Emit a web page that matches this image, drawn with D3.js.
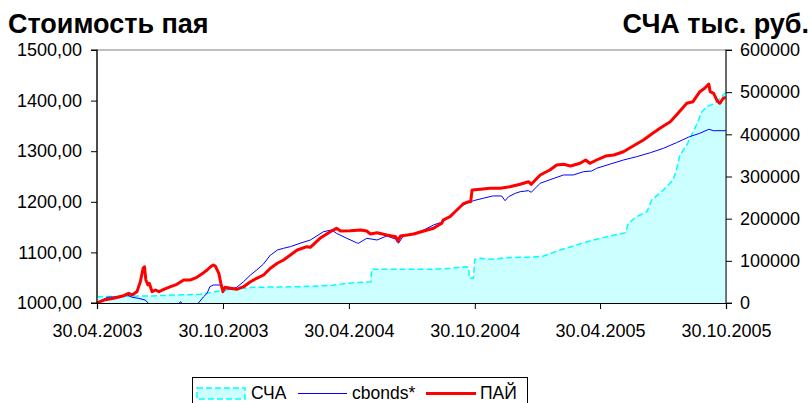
<!DOCTYPE html>
<html>
<head>
<meta charset="utf-8">
<script src="https://cdn.jsdelivr.net/npm/d3@7"></script>
<style>
  body { margin: 0; background: #fff; }
  text { font-family: "Liberation Sans", Arial, sans-serif; }
</style>
</head>
<body>
<div id="chart"></div>
<script>
// tick labels
const xTickLabels = ["30.04.2003", "30.10.2003", "30.04.2004", "30.10.2004", "30.04.2005", "30.10.2005"];
const leftTicks = [1000, 1100, 1200, 1300, 1400, 1500];
const rightTicks = [0, 100000, 200000, 300000, 400000, 500000, 600000];

// ПАЙ (unit value)
const paiDates = ["2003-04-30","2003-05-10","2003-05-24","2003-06-08","2003-06-15","2003-06-20","2003-06-27","2003-07-02","2003-07-06","2003-07-08",
  "2003-07-10","2003-07-13","2003-07-15","2003-07-19","2003-07-24","2003-07-29","2003-08-05","2003-08-15","2003-08-24","2003-09-03",
  "2003-09-13","2003-09-22","2003-10-02","2003-10-07","2003-10-12","2003-10-16","2003-10-19","2003-10-24","2003-10-27","2003-10-30",
  "2003-11-02","2003-11-10","2003-11-19","2003-11-29","2003-12-09","2003-12-18","2003-12-28","2004-01-07","2004-01-17","2004-01-26",
  "2004-02-05","2004-02-15","2004-02-29","2004-03-05","2004-03-19","2004-04-03","2004-04-12","2004-04-18","2004-05-02","2004-05-17",
  "2004-05-26","2004-05-31","2004-06-10","2004-06-24","2004-07-07","2004-07-10","2004-07-14","2004-07-24","2004-08-02","2004-08-17",
  "2004-08-31","2004-09-12","2004-09-14","2004-09-24","2004-10-04","2004-10-13","2004-10-21","2004-10-24","2004-10-26","2004-11-07",
  "2004-11-21","2004-12-06","2004-12-20","2005-01-04","2005-01-16","2005-01-20","2005-02-02","2005-02-16","2005-02-26","2005-03-08",
  "2005-03-18","2005-04-01","2005-04-09","2005-04-15","2005-04-25","2005-05-08","2005-05-20","2005-06-03","2005-06-17","2005-07-02",
  "2005-07-14","2005-07-26","2005-08-10","2005-08-19","2005-09-03","2005-09-12","2005-09-22","2005-09-29","2005-10-05","2005-10-07",
  "2005-10-12","2005-10-17","2005-10-21","2005-10-26","2005-10-30"];
const paiValues = [1000,1005.9,1009.3,1014.4,1019.2,1015.8,1022.3,1042.1,1068.6,1071.7,
  1045.5,1035.6,1038.9,1022.3,1025.7,1022.3,1027.1,1032.2,1037.0,1045.5,
  1045.5,1050.8,1059.9,1065.2,1071.7,1075.1,1073.0,1058.7,1038.9,1022.3,
  1031.0,1029.1,1027.1,1032.2,1042.1,1048.8,1055.3,1068.6,1078.5,1085.0,
  1094.9,1104.7,1111.3,1110.1,1127.9,1140.9,1147.6,1142.3,1142.9,1144.3,
  1142.3,1136.4,1138.9,1134.4,1131.0,1122.5,1132.4,1134.4,1136.4,1142.3,
  1147.6,1157.5,1164.0,1170.6,1183.8,1195.7,1200.2,1200.2,1223.3,1224.7,
  1226.7,1226.7,1229.8,1234.8,1239.7,1234.6,1253.0,1262.8,1272.7,1274.1,
  1270.7,1276.1,1282.6,1276.1,1282.6,1290.5,1292.5,1299.0,1310.3,1322.1,
  1334.0,1345.3,1358.3,1371.5,1394.7,1397.8,1417.6,1424.3,1432.8,1417.6,
  1414.4,1399.8,1394.7,1404.6,1406.5];

// cbonds* index
const cbondsDates = ["2003-04-30","2003-05-15","2003-05-29","2003-06-13","2003-06-20","2003-06-29","2003-07-09","2003-07-14","2003-07-24","2003-08-15",
  "2003-08-26","2003-08-29","2003-09-02","2003-09-13","2003-09-24","2003-10-02","2003-10-07","2003-10-09","2003-10-11","2003-10-16",
  "2003-10-26","2003-10-31","2003-11-10","2003-11-19","2003-11-29","2003-12-09","2003-12-18","2003-12-28","2004-01-07","2004-01-09",
  "2004-01-17","2004-01-26","2004-02-05","2004-02-19","2004-03-05","2004-03-24","2004-04-05","2004-04-12","2004-04-27","2004-05-11",
  "2004-05-14","2004-05-26","2004-06-10","2004-06-24","2004-07-08","2004-07-11","2004-07-18","2004-08-02","2004-08-17","2004-08-31",
  "2004-09-14","2004-09-29","2004-10-13","2004-10-28","2004-11-11","2004-11-25","2004-12-08","2004-12-13","2004-12-18","2004-12-28",
  "2005-01-04","2005-01-16","2005-01-20","2005-02-02","2005-02-22","2005-03-08","2005-03-22","2005-04-06","2005-04-18","2005-04-25",
  "2005-05-15","2005-06-03","2005-06-22","2005-07-12","2005-07-31","2005-08-19","2005-09-07","2005-09-22","2005-10-05","2005-10-12",
  "2005-10-30"];
const cbondsValues = [1000,1011.3,1012.5,1015.8,1011.3,1009.3,1005.9,999.4,985,980,
  996,1002.6,998,985,999.4,1012.5,1019.2,1025.7,1032.2,1035.6,
  1035.6,1029.1,1027.1,1031.0,1042.1,1055.3,1065.2,1077.1,1094.9,1096.2,
  1104.7,1108.1,1111.3,1118.0,1124.5,1140.9,1144.3,1137.7,1127.9,1119.2,
  1118.0,1127.9,1124.5,1132.4,1125.9,1118.0,1132.4,1136.4,1144.3,1154.2,
  1160.7,1177.3,1193.7,1202.2,1206.9,1211.5,1211.5,1202.2,1210.1,1216.8,
  1220.0,1222.0,1218.8,1236.6,1246.4,1253.0,1253.0,1259.5,1260.9,1266.2,
  1274.7,1282.6,1289.1,1297.0,1305.7,1316.8,1328.7,1335.4,1343.3,1340.5,
  1340.5];

// СЧА, тыс. руб.
const schaDates = ["2003-04-30","2003-07-12","2003-09-27","2003-11-04","2003-12-13","2004-02-19","2004-04-07","2004-04-27","2004-06-01","2004-06-02",
  "2004-07-14","2004-08-31","2004-09-24","2004-10-16","2004-10-21","2004-10-22","2004-10-28","2004-10-30","2004-11-08","2004-11-25",
  "2004-12-15","2005-01-04","2005-01-18","2005-02-07","2005-03-03","2005-03-27","2005-04-20","2005-05-15","2005-06-06","2005-06-10",
  "2005-06-22","2005-07-07","2005-07-14","2005-07-31","2005-08-14","2005-08-19","2005-08-24","2005-09-03","2005-09-10","2005-09-17",
  "2005-09-25","2005-10-02","2005-10-14","2005-10-21","2005-10-30"];
const schaValues = [15000,16600,20600,30800,37200,38700,42000,46700,50500,79900,
  79900,79900,82300,86100,84700,58600,58600,103600,106000,103600,
  107400,108400,108400,111500,125700,137500,149400,158900,166700,189000,
  204700,216500,244300,268000,291700,315400,351000,374700,398400,422100,
  453700,465500,473600,485400,499700];

const W = 811, H = 403;
const plot = { left: 97, right: 726, top: 50, bottom: 303 };

const parseIso = d3.timeParse("%Y-%m-%d");
const parseRu = d3.timeParse("%d.%m.%Y");
const ruFormat = d3.formatLocale({ decimal: ",", thousands: "", grouping: [3], currency: ["", ""] });

const pai = paiDates.map((d, i) => ({ date: parseIso(d), value: paiValues[i] }));
const cbonds = cbondsDates.map((d, i) => ({ date: parseIso(d), value: cbondsValues[i] }));
const scha = schaDates.map((d, i) => ({ date: parseIso(d), value: schaValues[i] }));
const xTickDates = xTickLabels.map(parseRu);

const x = d3.scaleTime()
  .domain([xTickDates[0], xTickDates[xTickDates.length - 1]])
  .range([plot.left, plot.right]);
const yLeft = d3.scaleLinear().domain([1000, 1500]).range([plot.bottom, plot.top]);
const yRight = d3.scaleLinear().domain([0, 600000]).range([plot.bottom, plot.top]);

const svg = d3.select("#chart").append("svg")
  .attr("width", W).attr("height", H);

svg.append("defs").append("clipPath").attr("id", "plotClip")
  .append("rect")
  .attr("x", plot.left).attr("y", plot.top)
  .attr("width", plot.right - plot.left).attr("height", plot.bottom - plot.top);

// plot area border (only the top part stays visible)
svg.append("rect")
  .attr("x", plot.left).attr("y", plot.top)
  .attr("width", plot.right - plot.left).attr("height", plot.bottom - plot.top)
  .attr("fill", "none").attr("stroke", "#808080").attr("stroke-width", 1);

const g = svg.append("g").attr("clip-path", "url(#plotClip)");

// СЧА area
g.append("path")
  .datum(scha)
  .attr("fill", "#CCFFFF")
  .attr("d", d3.area().x(d => x(d.date)).y0(yRight(0)).y1(d => yRight(d.value)));
g.append("path")
  .datum(scha)
  .attr("fill", "none")
  .attr("stroke", "#00FFFF")
  .attr("stroke-width", 1.5)
  .attr("stroke-dasharray", "6,3")
  .attr("d", d3.line().x(d => x(d.date)).y(d => yRight(d.value)));

// cbonds line
g.append("path")
  .datum(cbonds)
  .attr("fill", "none")
  .attr("stroke", "#0000FF")
  .attr("stroke-width", 1)
  .attr("d", d3.line().x(d => x(d.date)).y(d => yLeft(d.value)));

// ПАЙ line
g.append("path")
  .datum(pai)
  .attr("fill", "none")
  .attr("stroke", "#FF0000")
  .attr("stroke-width", 3)
  .attr("stroke-linejoin", "round")
  .attr("d", d3.line().x(d => x(d.date)).y(d => yLeft(d.value)));

// axes
const leftAxis = svg.append("g")
  .attr("transform", `translate(${plot.left},0)`)
  .call(d3.axisLeft(yLeft).tickValues(leftTicks).tickFormat(ruFormat.format(".2f")).tickSize(6).tickPadding(9));
const rightAxis = svg.append("g")
  .attr("transform", `translate(${plot.right},0)`)
  .call(d3.axisRight(yRight).tickValues(rightTicks).tickFormat(d3.format("d")).tickSize(6).tickPadding(8));
const bottomAxis = svg.append("g")
  .attr("transform", `translate(0,${plot.bottom})`)
  .call(d3.axisBottom(x).tickValues(xTickDates).tickFormat((d, i) => xTickLabels[i]).tickSize(6).tickPadding(15));

[leftAxis, rightAxis, bottomAxis].forEach(a => {
  a.select(".domain").attr("stroke", "#000").attr("stroke-width", 1.2);
  a.selectAll(".tick line").attr("stroke", "#000");
  a.selectAll("text")
    .attr("font-family", "'Liberation Sans', Arial, sans-serif")
    .attr("font-size", 18)
    .attr("fill", "#000");
});
leftAxis.select(".domain").attr("d", `M-6,${plot.top}H0V${plot.bottom}H-6`);
rightAxis.select(".domain").attr("d", `M6,${plot.top}H0V${plot.bottom}H6`).attr("stroke", "#333");

// titles
svg.append("text")
  .attr("x", 8).attr("y", 33)
  .attr("font-size", 27).attr("font-weight", "bold")
  .text("Стоимость пая");
svg.append("text")
  .attr("x", 809).attr("y", 33)
  .attr("text-anchor", "end")
  .attr("font-size", 27).attr("font-weight", "bold")
  .text("СЧА тыс. руб.");

// legend
const legend = svg.append("g");
legend.append("rect")
  .attr("x", 192.5).attr("y", 377.5)
  .attr("width", 335).attr("height", 30)
  .attr("fill", "#fff").attr("stroke", "#000").attr("stroke-width", 1);
legend.append("rect")
  .attr("x", 197).attr("y", 388).attr("width", 48).attr("height", 11)
  .attr("fill", "#CCFFFF").attr("stroke", "#00FFFF")
  .attr("stroke-width", 1.5).attr("stroke-dasharray", "6,3");
legend.append("text").attr("x", 251).attr("y", 399).attr("font-size", 17.5).text("СЧА");
legend.append("line")
  .attr("x1", 298).attr("x2", 347).attr("y1", 393.5).attr("y2", 393.5)
  .attr("stroke", "#0000FF").attr("stroke-width", 1);
legend.append("text").attr("x", 352).attr("y", 399).attr("font-size", 17.5).text("cbonds*");
legend.append("line")
  .attr("x1", 426).attr("x2", 476).attr("y1", 393.5).attr("y2", 393.5)
  .attr("stroke", "#FF0000").attr("stroke-width", 3);
legend.append("text").attr("x", 480).attr("y", 399).attr("font-size", 17.5).text("ПАЙ");
</script>
</body>
</html>
